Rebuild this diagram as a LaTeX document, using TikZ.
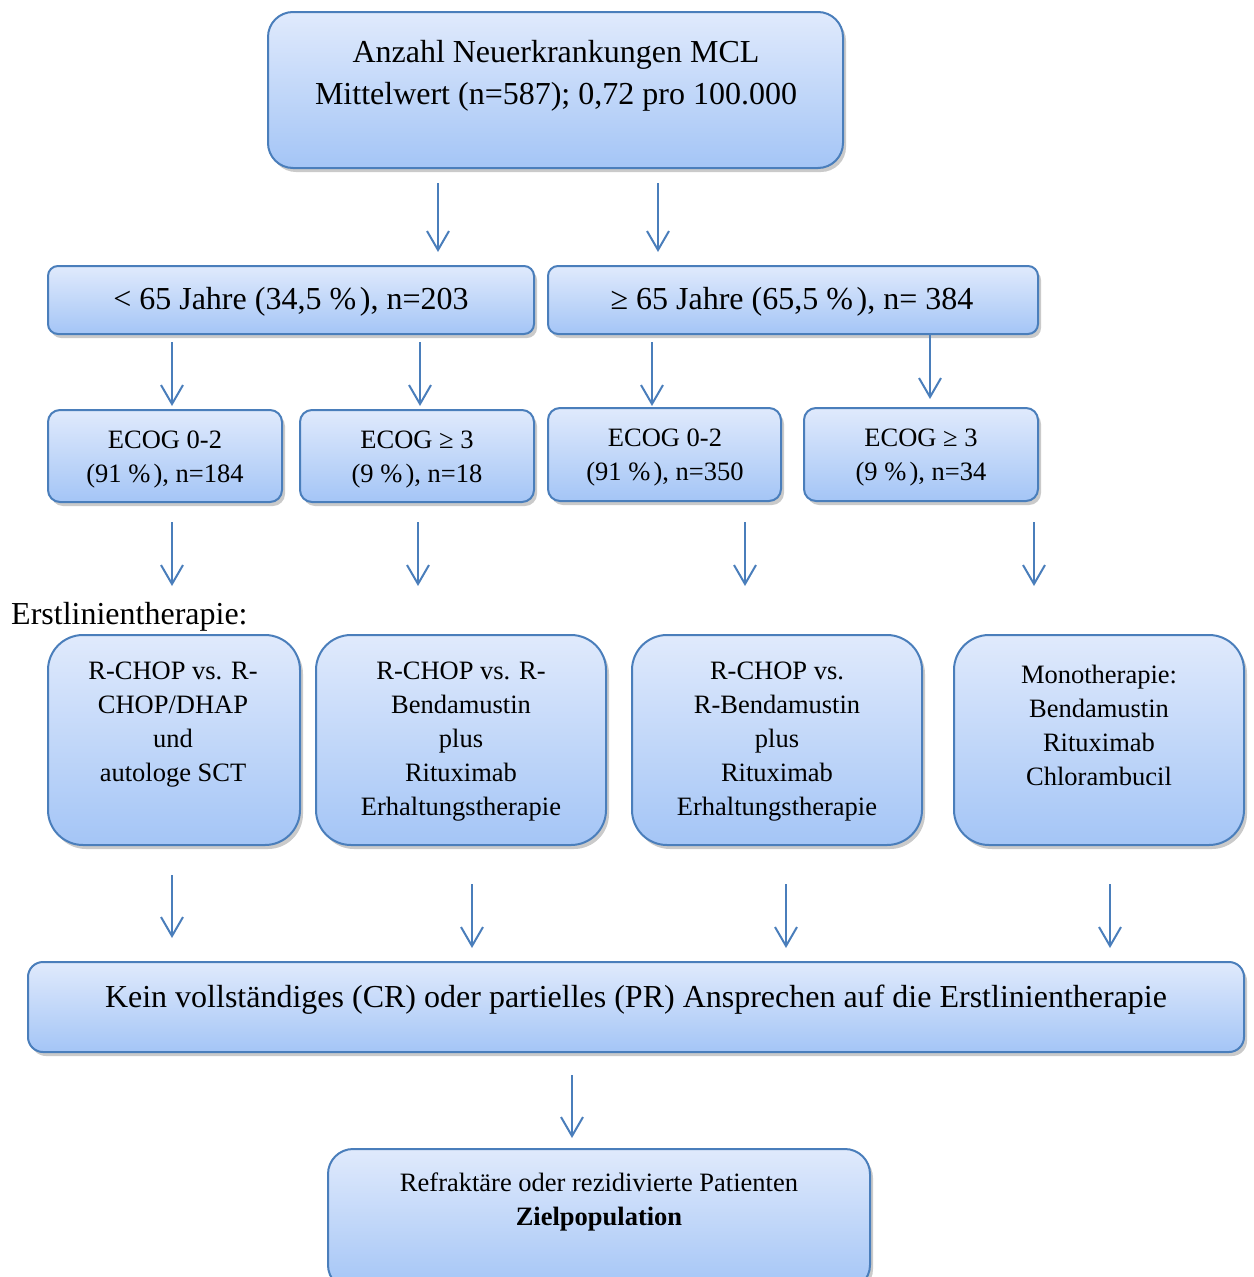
\documentclass[tikz,border=0pt]{standalone}
\usepackage{fontspec}
\setmainfont{Liberation Serif}
\usetikzlibrary{arrows.meta,shadows}
\definecolor{bord}{RGB}{74,126,187}
\definecolor{ftop}{RGB}{224,234,252}
\definecolor{fbot}{RGB}{164,197,246}
\newcommand{\bigtxt}{\fontsize{32}{42}\selectfont}
\newcommand{\smalltxt}{\fontsize{26.5}{34}\selectfont}
\newcommand{\pct}{\%\kern0.12em}
\tikzset{
  boxnode/.style={draw=bord, line width=2pt, top color=ftop, bottom color=fbot,
    inner sep=0pt, outer sep=0pt,
    drop shadow={shadow xshift=3pt, shadow yshift=-4pt, opacity=0.35, fill=black!60}},
  txt/.style={align=center, inner sep=0pt, text=black},
  arr/.style={draw=bord, line width=2pt, -{Straight Barb[length=19pt,width=22pt,line width=2pt]}}
}
\begin{document}
\begin{tikzpicture}[x=1pt,y=-1pt]
\useasboundingbox (0,0) rectangle (1253,1277);
% boxes
\node[boxnode, rounded corners=25pt, minimum width=575pt, minimum height=156pt] (top) at (555.5,90) {};
\node[boxnode, rounded corners=10pt, minimum width=486pt, minimum height=68pt] (young) at (291,300) {};
\node[boxnode, rounded corners=10pt, minimum width=490pt, minimum height=68pt] (old) at (793,300) {};
\node[boxnode, rounded corners=12pt, minimum width=234pt, minimum height=92pt] (e1) at (165,456) {};
\node[boxnode, rounded corners=12pt, minimum width=234pt, minimum height=92pt] (e2) at (417,456) {};
\node[boxnode, rounded corners=12pt, minimum width=233pt, minimum height=93pt] (e3) at (664.5,454.5) {};
\node[boxnode, rounded corners=12pt, minimum width=234pt, minimum height=93pt] (e4) at (921,454.5) {};
\node[boxnode, rounded corners=35pt, minimum width=252pt, minimum height=210pt] (t1) at (174,740) {};
\node[boxnode, rounded corners=35pt, minimum width=290pt, minimum height=210pt] (t2) at (461,740) {};
\node[boxnode, rounded corners=35pt, minimum width=290pt, minimum height=210pt] (t3) at (777,740) {};
\node[boxnode, rounded corners=35pt, minimum width=290pt, minimum height=210pt] (t4) at (1099,740) {};
\node[boxnode, rounded corners=15pt, minimum width=1216pt, minimum height=90pt] (kein) at (636,1007) {};
\node[boxnode, rounded corners=25pt, minimum width=542pt, minimum height=141pt] (ziel) at (599,1219.5) {};
% texts
\node[txt, font=\bigtxt] (ttop) at (556,76) {Anzahl Neuerkrankungen MCL\\Mittelwert (n=587); 0,72 pro 100.000};
\node[txt, font=\bigtxt] (tyoung) at (291,302) {< 65 Jahre (34,5 \pct), n=203};
\node[txt, font=\bigtxt] (told) at (792,302) {≥ 65 Jahre (65,5 \pct), n= 384};
\node[txt, font=\smalltxt] (te1) at (165,460) {ECOG 0-2\\(91 \pct), n=184};
\node[txt, font=\smalltxt] (te2) at (417,460) {ECOG ≥ 3\\(9 \pct), n=18};
\node[txt, font=\smalltxt] (te3) at (665,458) {ECOG 0-2\\(91 \pct), n=350};
\node[txt, font=\smalltxt] (te4) at (921,458) {ECOG ≥ 3\\(9 \pct), n=34};
\node[txt, font=\bigtxt, anchor=west] (erst) at (11,617) {Erstlinientherapie:};
\node[txt, font=\smalltxt] (tt1) at (173,725) {R-CHOP vs. R-\\CHOP/DHAP\\und\\autologe SCT};
\node[txt, font=\smalltxt] (tt2) at (461,742) {R-CHOP vs. R-\\Bendamustin\\plus\\Rituximab\\Erhaltungstherapie};
\node[txt, font=\smalltxt] (tt3) at (777,742) {R-CHOP vs.\\R-Bendamustin\\plus\\Rituximab\\Erhaltungstherapie};
\node[txt, font=\smalltxt] (tt4) at (1099,725) {Monotherapie:\\Bendamustin\\Rituximab\\Chlorambucil};
\node[txt, font=\bigtxt] (tkein) at (636,1000) {Kein vollständiges (CR) oder partielles (PR) Ansprechen auf die Erstlinientherapie};
\node[txt, font=\smalltxt] (tziel) at (599,1202) {Refraktäre oder rezidivierte Patienten\\\textbf{Zielpopulation}};
% arrow x positions
\coordinate (xa) at (438,0);
\coordinate (xb) at (658,0);
\coordinate (xc) at (172,0);
\coordinate (xd) at (420,0);
\coordinate (xe) at (652,0);
\coordinate (xf) at (930,0);
\coordinate (xg) at (418,0);
\coordinate (xh) at (745,0);
\coordinate (xi) at (1034,0);
\coordinate (xj) at (472,0);
\coordinate (xk) at (786,0);
\coordinate (xl) at (1110,0);
\coordinate (xm) at (572,0);
% arrows
\draw[arr, shorten <=15pt, shorten >=14pt] (top.south -| xa) -- (young.north -| xa);
\draw[arr, shorten <=15pt, shorten >=14pt] (top.south -| xb) -- (old.north -| xb);
\draw[arr, shorten <=8pt, shorten >=4pt] (young.south -| xc) -- (e1.north -| xc);
\draw[arr, shorten <=8pt, shorten >=4pt] (young.south -| xd) -- (e2.north -| xd);
\draw[arr, shorten <=8pt, shorten >=2pt] (old.south -| xe) -- (e3.north -| xe);
\draw[arr, shorten <=0pt, shorten >=9pt] (old.south -| xf) -- (e4.north -| xf);
\draw[arr, shorten <=20pt, shorten >=49pt] (e1.south -| xc) -- (t1.north -| xc);
\draw[arr, shorten <=20pt, shorten >=49pt] (e2.south -| xg) -- (t2.north -| xg);
\draw[arr, shorten <=21pt, shorten >=49pt] (e3.south -| xh) -- (t3.north -| xh);
\draw[arr, shorten <=21pt, shorten >=49pt] (e4.south -| xi) -- (t4.north -| xi);
\draw[arr, shorten <=30pt, shorten >=24pt] (t1.south -| xc) -- (kein.north -| xc);
\draw[arr, shorten <=39pt, shorten >=14pt] (t2.south -| xj) -- (kein.north -| xj);
\draw[arr, shorten <=39pt, shorten >=14pt] (t3.south -| xk) -- (kein.north -| xk);
\draw[arr, shorten <=39pt, shorten >=14pt] (t4.south -| xl) -- (kein.north -| xl);
\draw[arr, shorten <=23pt, shorten >=11pt] (kein.south -| xm) -- (ziel.north -| xm);
\end{tikzpicture}
\end{document}
